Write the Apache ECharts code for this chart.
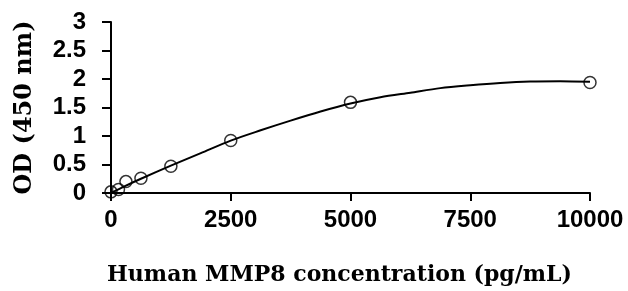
<!DOCTYPE html>
<html><head><meta charset="utf-8">
<script src="https://cdn.jsdelivr.net/npm/echarts@6/dist/echarts.min.js"></script>
<style>html,body{margin:0;padding:0;background:#fff}#c{width:628px;height:291px}</style>
</head><body><div id="c"></div>
<script>
const concentrations = [0, 156, 312, 625, 1250, 2500, 5000, 10000];
const odValues = [0.02, 0.06, 0.2, 0.26, 0.47, 0.92, 1.59, 1.94];
const trendX = [0, 312, 625, 1250, 1875, 2500, 3125, 3750, 4375, 5000, 5625, 6250, 6875, 7500, 8125, 8750, 9375, 10000];
const trendY = [0.0, 0.13, 0.25, 0.48, 0.70, 0.92, 1.10, 1.27, 1.43, 1.57, 1.68, 1.76, 1.84, 1.89, 1.93, 1.955, 1.96, 1.95];
const xTicks = [0, 2500, 5000, 7500, 10000];
const yTicks = [0, 0.5, 1, 1.5, 2, 2.5, 3];
const xTitle = 'Human MMP8 concentration (pg/mL)';
const yTitle = 'OD (450 nm)';

const pts = concentrations.map((c, i) => [c, odValues[i]]);
const trend = trendX.map((c, i) => [c, trendY[i]]);
const chart = echarts.init(document.getElementById('c'), null, {renderer: 'canvas'});
const tickFont = {fontFamily: 'Liberation Sans', fontWeight: 'bold', fontSize: 24, color: '#000'};
chart.setOption({
  animation: false,
  backgroundColor: '#fff',
  grid: {left: 111, right: 38, top: 22, bottom: 98, outerBoundsMode: 'none', containLabel: false},
  xAxis: {
    type: 'value', min: xTicks[0], max: xTicks[xTicks.length - 1], interval: 2500,
    name: xTitle, nameLocation: 'middle', nameGap: 71,
    nameTextStyle: {fontFamily: 'DejaVu Serif', fontWeight: 'bold', fontSize: 22, color: '#000', padding: [0, 22, 0, 0]},
    axisLine: {lineStyle: {color: '#000', width: 2}},
    axisTick: {length: 8, lineStyle: {color: '#000', width: 2}},
    axisLabel: Object.assign({margin: 15, formatter: v => String(v)}, tickFont),
    splitLine: {show: false}
  },
  yAxis: {
    type: 'value', min: yTicks[0], max: yTicks[yTicks.length - 1], interval: 0.5,
    name: yTitle, nameLocation: 'middle', nameGap: 74,
    nameTextStyle: {fontFamily: 'DejaVu Serif', fontWeight: 'bold', fontSize: 24, color: '#000'},
    axisLine: {show: true, lineStyle: {color: '#000', width: 2}},
    axisTick: {show: true, length: 9, lineStyle: {color: '#000', width: 2}},
    axisLabel: Object.assign({margin: 25, formatter: v => String(v)}, tickFont),
    splitLine: {show: false}
  },
  series: [{
    type: 'line', data: trend, smooth: 0.3, symbol: 'none',
    lineStyle: {color: '#000', width: 2}, z: 2
  }, {
    type: 'scatter', data: pts,
    symbol: 'circle', symbolSize: 12,
    itemStyle: {color: 'rgba(255,255,255,0)', borderColor: '#000', borderWidth: 1.5}, z: 3
  }]
});
</script></body></html>
